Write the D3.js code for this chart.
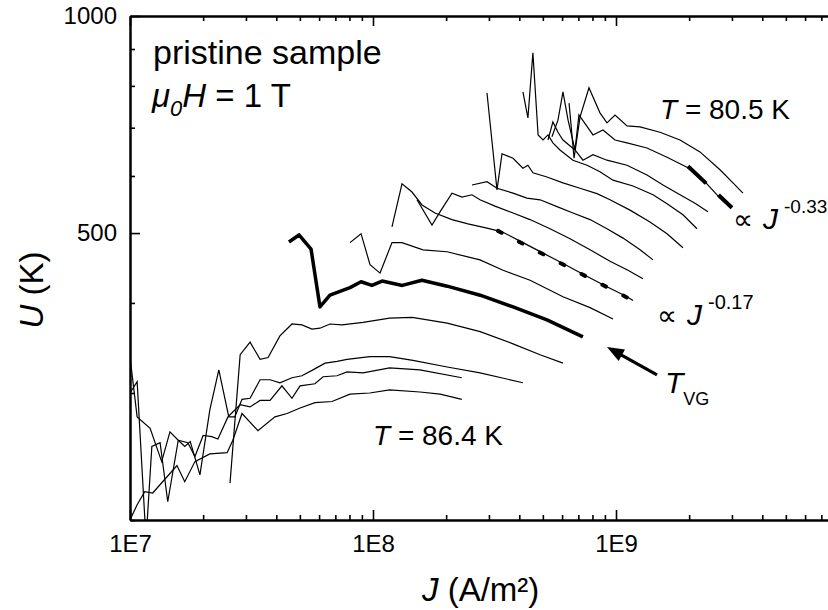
<!DOCTYPE html>
<html>
<head>
<meta charset="utf-8">
<script src="https://cdn.jsdelivr.net/npm/d3@7"></script>
<style>
body { margin: 0; background: #fff; }
svg { font-family: "Liberation Sans", Arial, sans-serif; }
</style>
</head>
<body>
<div id="chart"></div>
<script>
// U(J) curves, [J (A/m2), U (K)], top (80.5 K) to bottom (86.4 K)
var curve1 = [[6.41e8,757],[6.72e8,635],[7.11e8,724],[7.74e8,795],[8.59e8,734],[9.18e8,711],[9.91e8,729],[1.11e9,704],[1.256e9,702],[1.517e9,690],[1.834e9,673],[2.216e9,648],[2.679e9,612],[3.03e9,587],[3.33e9,568]];
var curve2 = [[5.45e8,680],[5.77e8,717],[6.05e8,785],[6.35e8,717],[6.78e8,652],[7.04e8,729],[8.04e8,684],[8.84e8,695],[9.91e8,673],[1.11e9,667],[1.341e9,656],[1.622e9,637],[1.96e9,617],[2.346e9,587],[2.679e9,559],[3.0e9,542]];
var curve3 = [[5.25e8,673],[5.50e8,713],[5.77e8,690],[6.05e8,673],[6.78e8,652],[7.31e8,631],[8.04e8,642],[9.18e8,631],[1.11e9,621],[1.341e9,602],[1.561e9,583],[1.834e9,565],[2.114e9,550],[2.391e9,535]];
var curve4 = [[4.14e8,785],[4.34e8,722],[4.55e8,889],[4.78e8,684],[5.01e8,673],[5.25e8,684],[5.50e8,667],[5.88e8,652],[6.65e8,631],[7.60e8,621],[8.59e8,608],[9.72e8,592],[1.175e9,581],[1.42e9,565],[1.622e9,549],[1.886e9,530],[2.154e9,507]];
var curve5 = [[2.945e8,782],[3.238e8,574],[3.395e8,644],[3.77e8,635],[4.14e8,615],[4.34e8,621],[4.55e8,606],[5.20e8,598],[6.05e8,587],[7.11e8,577],[8.35e8,567],[9.45e8,556],[1.142e9,538],[1.38e9,518],[1.622e9,499],[1.886e9,477]];
var curve6 = [[2.555e8,583],[2.945e8,589],[3.238e8,577],[3.77e8,568],[4.30e8,559],[4.87e8,556],[5.72e8,544],[6.65e8,533],[7.82e8,522],[9.18e8,507],[1.069e9,492],[1.256e9,474],[1.42e9,459]];
var curve7 = [[1.517e8,556],[1.749e8,513],[1.887e8,535],[2.114e8,568],[2.324e8,561],[2.555e8,565],[2.756e8,556],[3.177e8,545],[3.77e8,533],[4.427e8,522],[5.35e8,507],[6.47e8,491],[7.82e8,474],[9.45e8,457],[1.12e9,444],[1.291e9,432]];
var curve8 = [[1.197e8,510],[1.316e8,585],[1.447e8,570],[1.591e8,547],[1.799e8,533],[2.114e8,522],[2.46e8,515],[2.945e8,508],[3.395e8,502],[4.14e8,485],[5.01e8,469],[6.11e8,453],[7.45e8,437],[9.09e8,422],[1.11e9,408],[1.175e9,403]];
var curve9 = [[8.04e7,485],[8.93e7,499],[9.72e7,452],[1.069e8,440],[1.197e8,485],[1.316e8,485],[1.606e8,474],[2.017e8,471],[2.756e8,459],[3.43e8,444],[4.43e8,430],[6.05e8,408],[7.82e8,394],[9.72e8,380]];
var curveTVG = [[4.51e7,486],[4.96e7,497],[5.56e7,475],[6.05e7,395],[6.65e7,410],[8.04e7,420],[8.93e7,428],[9.9e7,423],[1.09e8,429],[1.32e8,423],[1.59e8,430],[2.02e8,422],[2.76e8,410],[3.77e8,395],[5.2e8,379],[7.31e8,359]];
var curve11 = [[2.58e7,225],[2.84e7,339],[3.12e7,353],[3.43e7,334],[3.70e7,336],[4.14e7,360],[4.64e7,374],[5.10e7,373],[5.61e7,368],[6.05e7,369],[6.65e7,374],[7.45e7,373],[9.1e7,376],[1.17e8,381],[1.45e8,382],[2.02e8,375],[2.76e8,365],[3.77e8,351],[4.87e8,339],[6.05e8,330]];
var curve12 = [[1e7,336.5],[1.07e7,278],[1.21e7,268],[1.35e7,241],[1.46e7,265],[1.58e7,258],[1.68e7,253],[1.77e7,257],[1.94e7,231],[2.13e7,284],[2.32e7,323],[2.55e7,278],[2.70e7,278],[2.89e7,294],[3.12e7,295],[3.43e7,313],[3.77e7,313],[4.14e7,310],[4.64e7,315],[5.10e7,317],[5.66e7,323],[6.35e7,330],[7.11e7,332],[7.82e7,334],[9.7e7,337],[1.17e8,337],[1.46e8,333],[2.02e8,326],[2.76e8,320],[4.14e8,310]];
var curve13 = [[1e7,300],[1.07e7,311],[1.164e7,187.6],[1.23e7,253],[1.33e7,256],[1.43e7,212],[1.58e7,258],[1.73e7,256],[1.85e7,245],[2.0e7,262],[2.17e7,261],[2.30e7,259],[2.53e7,278],[2.84e7,289],[3.12e7,287],[3.43e7,293],[3.77e7,293],[4.22e7,307],[4.64e7,295],[5.01e7,307],[5.77e7,309],[6.23e7,316],[7.11e7,317],[7.82e7,321],[9.1e7,320],[1.17e8,325],[1.56e8,323],[2.32e8,315]];
var curve14 = [[1e7,200],[1.07e7,210],[1.15e7,219],[1.24e7,218],[1.46e7,232],[1.56e7,238],[1.68e7,226],[1.85e7,241],[2.13e7,247],[2.51e7,248],[2.65e7,258],[2.89e7,281],[3.36e7,266],[3.95e7,278],[4.43e7,281],[5.01e7,286],[5.77e7,291],[6.78e7,292],[8.04e7,299],[9.7e7,300],[1.17e8,303],[1.56e8,301],[1.89e8,299],[2.32e8,294]];

// power-law guide lines
var fit033 = [[1.978e9,619],[3.0e9,542]];
var fit017 = [[3.27e8,503.5],[1.142e9,405]];
// arrow pointing at T_VG curve: tail, head
var arrowTVG = [[1.475e9,317.8],[9.18e8,347.5]];

// ticks
var xMajor = [1e7, 1e8, 1e9];
var xTickLabels = ["1E7", "1E8", "1E9"];
var xMinor = [2e7,3e7,4e7,5e7,6e7,7e7,8e7,9e7,2e8,3e8,4e8,5e8,6e8,7e8,8e8,9e8,2e9,3e9,4e9,5e9,6e9,7e9,8e9,9e9];
var yMajor = [500, 1000];
var yTickLabels = ["500", "1000"];
var yMinor = [200, 300, 400, 600, 700, 800, 900];

var svgWidth = 828;
var svgHeight = 610;
var margin = { top: 16, left: 130 };
var width = 243 * 3;   // three decades, right edge runs off the page
var height = 504;

var svg = d3.select("#chart")
    .append("svg")
    .attr("width", svgWidth)
    .attr("height", svgHeight);

var chartGroup = svg.append("g")
    .attr("transform", `translate(${margin.left}, ${margin.top})`);

var x = d3.scaleLog().domain([1e7, 1e10]).range([0, width]);
var y = d3.scaleLog().domain([200, 1000]).range([height, 0]);

svg.append("defs").append("clipPath")
    .attr("id", "clip")
    .append("rect")
    .attr("width", width)
    .attr("height", height);

function styleAxis(g) {
    g.attr("font-family", null).attr("font-size", null);
    g.select(".domain").attr("stroke-width", 2);
    g.selectAll(".tick line").attr("stroke-width", 1.6);
    g.selectAll(".tick text").style("font-size", "24px").attr("fill", "#000");
}

// bottom axis
chartGroup.append("g")
    .attr("transform", `translate(0, ${height})`)
    .call(d3.axisBottom(x).tickValues(xMinor).tickFormat("").tickSizeInner(-5).tickSizeOuter(0))
    .call(styleAxis);
chartGroup.append("g")
    .attr("transform", `translate(0, ${height})`)
    .call(d3.axisBottom(x).tickValues(xMajor).tickFormat((d, i) => xTickLabels[i]).tickSizeInner(-10).tickSizeOuter(0).tickPadding(15))
    .call(styleAxis);

// top axis
chartGroup.append("g")
    .call(d3.axisTop(x).tickValues(xMinor).tickFormat("").tickSizeInner(-5).tickSizeOuter(0))
    .call(styleAxis);
chartGroup.append("g")
    .call(d3.axisTop(x).tickValues(xMajor).tickFormat("").tickSizeInner(-10).tickSizeOuter(0))
    .call(styleAxis);

// left axis
chartGroup.append("g")
    .call(d3.axisLeft(y).tickValues(yMinor).tickFormat("").tickSizeInner(-5).tickSizeOuter(0))
    .call(styleAxis);
chartGroup.append("g")
    .call(d3.axisLeft(y).tickValues(yMajor).tickFormat((d, i) => yTickLabels[i]).tickSizeInner(-10).tickSizeOuter(0).tickPadding(13))
    .call(styleAxis);

// curves
var line = d3.line()
    .x(d => x(d[0]))
    .y(d => y(d[1]));

var plot = chartGroup.append("g").attr("clip-path", "url(#clip)");

var thinCurves = [curve1, curve2, curve3, curve4, curve5, curve6, curve7, curve8, curve9,
    curve11, curve12, curve13, curve14];

plot.selectAll(".thin")
    .data(thinCurves)
    .enter()
    .append("path")
    .attr("class", "thin")
    .attr("d", line)
    .attr("fill", "none")
    .attr("stroke", "#000")
    .attr("stroke-width", 1.2);

plot.append("path")
    .datum(curveTVG)
    .attr("d", line)
    .attr("fill", "none")
    .attr("stroke", "#000")
    .attr("stroke-width", 3.5)
    .attr("stroke-linejoin", "round");

plot.append("path")
    .datum(fit033)
    .attr("d", line)
    .attr("stroke", "#000")
    .attr("stroke-width", 4)
    .attr("stroke-dasharray", "25,17");

plot.append("path")
    .datum(fit017)
    .attr("d", line)
    .attr("stroke", "#000")
    .attr("stroke-width", 4)
    .attr("stroke-linecap", "round")
    .attr("stroke-dasharray", "4,19.5");

// arrow
var p0 = [x(arrowTVG[0][0]), y(arrowTVG[0][1])];
var p1 = [x(arrowTVG[1][0]), y(arrowTVG[1][1])];
var len = Math.hypot(p1[0] - p0[0], p1[1] - p0[1]);
var ux = (p1[0] - p0[0]) / len, uy = (p1[1] - p0[1]) / len;
chartGroup.append("line")
    .attr("x1", p0[0]).attr("y1", p0[1])
    .attr("x2", p1[0] - 10 * ux).attr("y2", p1[1] - 10 * uy)
    .attr("stroke", "#000")
    .attr("stroke-width", 3.2);
chartGroup.append("path")
    .attr("d", `M${p1[0]},${p1[1]} L${p1[0] - 17 * ux - 6.5 * uy},${p1[1] - 17 * uy + 6.5 * ux} L${p1[0] - 17 * ux + 6.5 * uy},${p1[1] - 17 * uy - 6.5 * ux} Z`)
    .attr("fill", "#000");

// labels
svg.append("text")
    .attr("x", 153).attr("y", 64)
    .style("font-size", "34px")
    .text("pristine sample");

var muH = svg.append("text")
    .attr("x", 152).attr("y", 107)
    .style("font-size", "33px");
muH.append("tspan").style("font-style", "italic").text("μ");
muH.append("tspan").style("font-style", "italic").style("font-size", "22px").attr("dy", 9).text("0");
muH.append("tspan").style("font-style", "italic").attr("dy", -9).text("H");
muH.append("tspan").text(" = 1 T");

var t805 = svg.append("text").attr("x", 660).attr("y", 119).style("font-size", "28px");
t805.append("tspan").style("font-style", "italic").text("T");
t805.append("tspan").text(" = 80.5 K");

var t864 = svg.append("text").attr("x", 373).attr("y", 445).style("font-size", "28px");
t864.append("tspan").style("font-style", "italic").text("T");
t864.append("tspan").text(" = 86.4 K");

function powerLabel(px, py, exponent, supSize) {
    var t = svg.append("text").attr("x", px).attr("y", py).style("font-size", "30px");
    t.append("tspan").style("font-family", "DejaVu Sans").style("font-size", "28px").text("∝");
    t.append("tspan").attr("x", px + 30).style("font-style", "italic").text("J");
    t.append("tspan").attr("x", px + 51).attr("dy", -16).style("font-size", supSize).text(exponent);
}
powerLabel(733, 229, "-0.33", "19px");
powerLabel(657, 325, "-0.17", "20px");

var tvg = svg.append("text").attr("x", 665).attr("y", 393).style("font-size", "30px");
tvg.append("tspan").style("font-style", "italic").text("T");
tvg.append("tspan").attr("dy", 12).style("font-size", "18px").text("VG");

// axis titles
var yTitle = svg.append("text")
    .attr("transform", "translate(43, 290) rotate(-90)")
    .attr("text-anchor", "middle")
    .style("font-size", "33px");
yTitle.append("tspan").style("font-style", "italic").text("U");
yTitle.append("tspan").text(" (K)");

var xTitle = svg.append("text")
    .attr("x", 422).attr("y", 601)
    .style("font-size", "33px");
xTitle.append("tspan").style("font-style", "italic").text("J");
xTitle.append("tspan").text(" (A/m²)");
</script>
</body>
</html>
